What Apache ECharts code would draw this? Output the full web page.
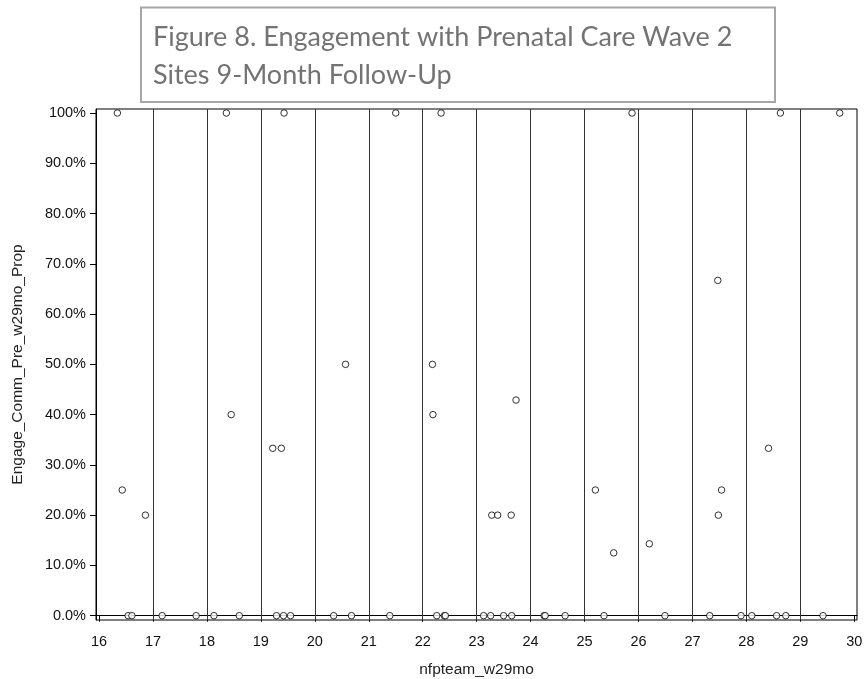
<!DOCTYPE html>
<html>
<head>
<meta charset="utf-8">
<script src="https://cdn.jsdelivr.net/npm/echarts@6/dist/echarts.min.js"></script>
<style>html,body{margin:0;padding:0;background:#fff}#c{width:864px;height:679px}</style>
</head>
<body>
<div id="c"></div>
<script>
// nfpteam_w29mo (jittered x) and Engage_Comm_Pre_w29mo_Prop (percent)
const teamX = [
  16.34,16.43,16.86,16.54,16.61,17.17,17.80,18.13,18.60,18.36,18.45,19.22,19.38,19.43,19.29,19.42,19.55,
  20.35,20.68,20.57,21.39,21.50,22.34,22.18,22.19,22.26,22.40,22.42,
  23.13,23.26,23.50,23.65,23.28,23.39,23.64,23.73,24.25,24.27,24.64,
  25.36,25.20,25.54,25.88,26.20,26.49,27.32,27.47,27.54,27.48,27.90,28.10,28.41,28.56,28.73,28.63,29.42,29.73
];
const propY = [
  100,25,20,0,0,0,0,0,0,100,40,33.3,33.3,100,0,0,0,
  0,0,50,0,100,100,50,40,0,0,0,
  0,0,0,0,20,20,20,42.9,0,0,0,
  0,25,12.5,100,14.3,0,0,66.7,25,20,0,0,33.3,0,0,100,0,100
];
const xTicks = [16,17,18,19,20,21,22,23,24,25,26,27,28,29,30];
const yTicks = [0,10,20,30,40,50,60,70,80,90,100];
const dividers = [17,18,19,20,21,22,23,24,25,26,27,28,29];
const titleLines = ['Figure 8. Engagement with Prenatal Care Wave 2', 'Sites 9-Month Follow-Up'];

const chart = echarts.init(document.getElementById('c'), null, {renderer:'canvas'});
const pts = teamX.map((x,i)=>[x, propY[i]]);
const tickFont = {fontFamily:'Liberation Sans', fontSize:14.5, color:'#111'};
const nameFont = {fontFamily:'Liberation Sans', fontSize:15.5, color:'#222'};
chart.setOption({
  animation:false,
  backgroundColor:'#fff',
  grid:{left:96, top:109, right:7, bottom:59, show:true, borderColor:'#000', borderWidth:1,
        containLabel:false, outerBoundsMode:'none'},
  graphic:[
    {type:'rect', shape:{x:141, y:7.5, width:634, height:94.5}, style:{fill:'#fff', stroke:'#a6a6a6', lineWidth:2}, z:10},
    {type:'text', style:{x:153, y:37, text:titleLines[0], font:'27px Lato', fill:'#737373', verticalAlign:'middle'}, z:11},
    {type:'text', style:{x:153, y:75, text:titleLines[1], font:'27px Lato', fill:'#737373', verticalAlign:'middle'}, z:11}
  ],
  xAxis:{
    type:'value', min:15.944, max:30.05,
    name:'nfpteam_w29mo', nameLocation:'middle', nameGap:42,
    nameTextStyle:nameFont,
    axisLine:{show:true, lineStyle:{color:'#000', width:1}},
    axisTick:{show:true, length:6, lineStyle:{color:'#000'}, customValues:xTicks},
    axisLabel:Object.assign({margin:14, customValues:xTicks}, tickFont),
    splitLine:{show:false}
  },
  yAxis:{
    type:'value', min:-0.86, max:100.8,
    name:'Engage_Comm_Pre_w29mo_Prop', nameLocation:'middle', nameGap:70, nameRotate:90,
    nameTextStyle:nameFont,
    axisLine:{show:true, lineStyle:{color:'#000', width:1}},
    axisTick:{show:true, length:6, lineStyle:{color:'#000'}, customValues:yTicks},
    axisLabel:Object.assign({margin:10, customValues:yTicks,
      formatter:v=> v===100 ? '100%' : v.toFixed(1)+'%'}, tickFont),
    splitLine:{show:false}
  },
  series:[{
    type:'scatter', data:pts, symbol:'circle', symbolSize:6.5,
    itemStyle:{color:'#fff', borderColor:'#000', borderWidth:1},
    z:3,
    markLine:{silent:true, symbol:'none', label:{show:false},
      lineStyle:{type:'solid', color:'#333', width:1},
      data:dividers.map(d=>({xAxis:d})), z:1}
  }]
});
</script>
</body>
</html>
